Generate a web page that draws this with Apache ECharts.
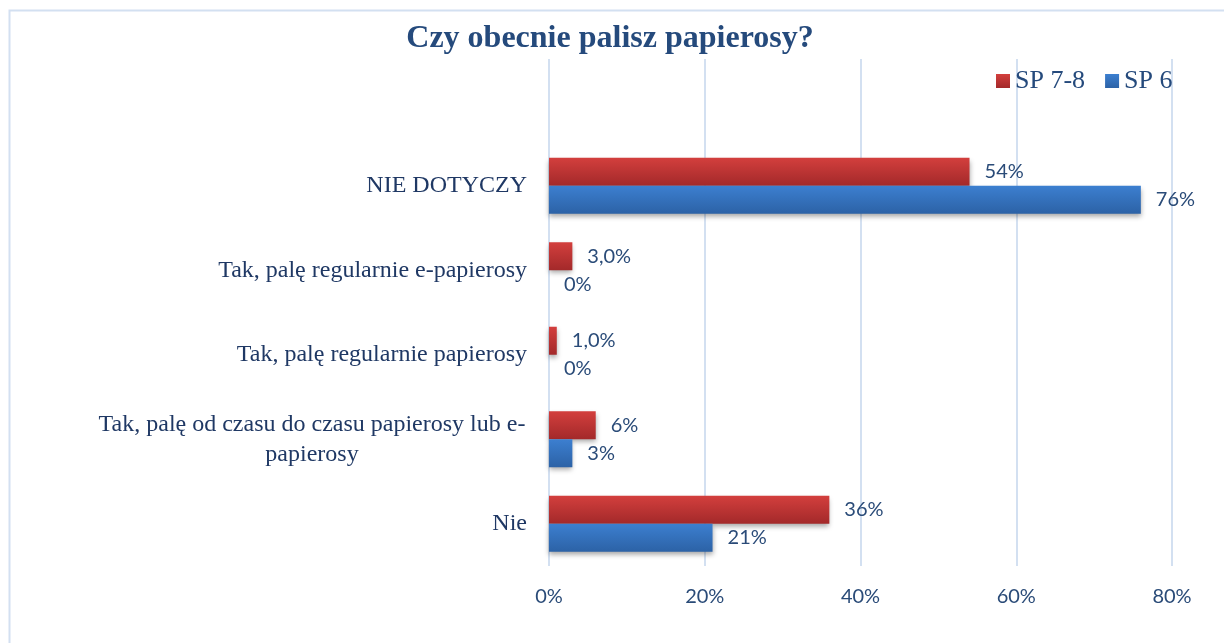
<!DOCTYPE html>
<html>
<head>
<meta charset="utf-8">
<script src="https://cdn.jsdelivr.net/npm/echarts@6/dist/echarts.min.js"></script>
<style>
  html, body { margin: 0; padding: 0; background: #fff; }
  #chart { width: 1224px; height: 643px; }
</style>
</head>
<body>
<div id="chart"></div>
<script>
// kategorie od góry do dołu (pierwsza pusta, jak w oryginale)
const categories = [
  '',
  'NIE DOTYCZY',
  'Tak, palę regularnie e-papierosy',
  'Tak, palę regularnie papierosy',
  'Tak, palę od czasu do czasu papierosy lub e-\npapierosy',
  'Nie'
];
const sp78 = [null, 54, 3, 1, 6, 36];
const sp6 = [null, 76, 0, 0, 3, 21];
const sp78Labels = ['', '54%', '3,0%', '1,0%', '6%', '36%'];
const sp6Labels = ['', '76%', '0%', '0%', '3%', '21%'];
const xTicks = [0, 20, 40, 60, 80];

const serif = '"Liberation Serif", "Times New Roman", serif';
const sans = 'Lato, "Open Sans", sans-serif';

function gradient(top, bottom) {
  return new echarts.graphic.LinearGradient(0, 0, 0, 1, [
    {offset: 0, color: top},
    {offset: 1, color: bottom}
  ]);
}

const myChart = echarts.init(document.getElementById('chart'));

const option = {
  animation: false,
  title: {
    text: 'Czy obecnie palisz papierosy?',
    left: 605,
    top: 18,
    textAlign: 'center',
    textStyle: {
      fontFamily: serif,
      fontSize: 32,
      fontWeight: 'bold',
      color: '#254a7c'
    }
  },
  legend: {
    left: 991,
    top: 63,
    icon: 'rect',
    itemWidth: 14,
    itemHeight: 14,
    itemGap: 20,
    textStyle: {
      fontFamily: serif,
      fontSize: 26,
      color: '#254a7c'
    }
  },
  grid: {
    left: 549,
    right: 52,
    top: 59,
    bottom: 77
  },
  xAxis: {
    type: 'value',
    min: 0,
    max: 80,
    interval: 20,
    axisLine: {show: false},
    axisTick: {show: false},
    splitLine: {lineStyle: {color: '#d3e0f1', width: 2}},
    axisLabel: {
      margin: 21,
      fontFamily: sans,
      fontSize: 20,
      color: '#2a4b78',
      formatter: (v) => (xTicks.includes(v) ? v + '%' : '')
    }
  },
  yAxis: {
    type: 'category',
    inverse: true,
    data: categories,
    axisLine: {show: false},
    axisTick: {show: false},
    axisLabel: {
      margin: 22,
      fontFamily: serif,
      fontSize: 24,
      color: '#1f3864',
      lineHeight: 30,
      formatter: (v) => {
        if (v.indexOf('\n') < 0) return v;
        return v.split('\n').map(s => '{c|' + s + '}').join('\n');
      },
      rich: {
        c: {
          width: 430,
          align: 'center',
          fontFamily: serif,
          fontSize: 24,
          lineHeight: 30,
          color: '#1f3864'
        }
      }
    }
  },
  series: [
    {
      name: 'SP 7-8',
      type: 'bar',
      data: sp78,
      barWidth: 28,
      barGap: '0%',
      itemStyle: {
        color: gradient('#d33f3d', '#a3292a'),
        shadowColor: 'rgba(0,0,0,0.35)',
        shadowBlur: 5,
        shadowOffsetY: 3
      },
      label: {
        show: true,
        position: 'right',
        distance: 15,
        fontFamily: sans,
        fontSize: 20,
        color: '#2a4b78',
        formatter: (p) => sp78Labels[p.dataIndex]
      }
    },
    {
      name: 'SP 6',
      type: 'bar',
      data: sp6,
      barWidth: 28,
      itemStyle: {
        color: gradient('#3c7fd0', '#2c62a6'),
        shadowColor: 'rgba(0,0,0,0.35)',
        shadowBlur: 5,
        shadowOffsetY: 3
      },
      label: {
        show: true,
        position: 'right',
        distance: 15,
        fontFamily: sans,
        fontSize: 20,
        color: '#2a4b78',
        formatter: (p) => sp6Labels[p.dataIndex]
      }
    }
  ],
  graphic: [
    {
      type: 'rect',
      silent: true,
      shape: {x: 9.5, y: 10.5, width: 1300, height: 700},
      style: {fill: 'none', stroke: '#d3e0f1', lineWidth: 2}
    }
  ]
};

myChart.setOption(option);
window.onresize = function () {
  myChart.resize();
};
</script>
</body>
</html>
